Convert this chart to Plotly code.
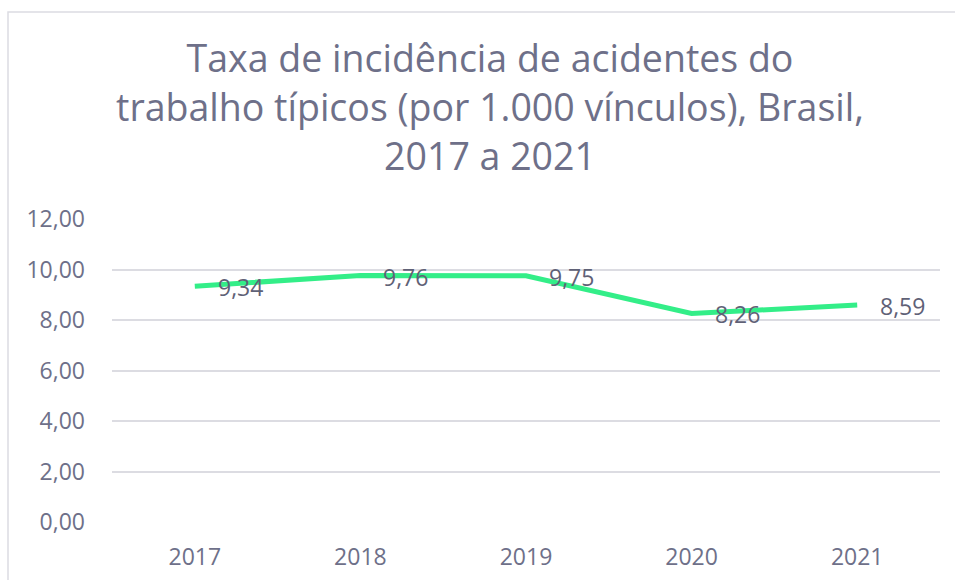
import plotly.graph_objects as go

years = ["2017", "2018", "2019", "2020", "2021"]
rates = [9.34, 9.76, 9.75, 8.26, 8.59]
labels = ["9,34", "9,76", "9,75", "8,26", "8,59"]
ytick_vals = [0, 2, 4, 6, 8, 10, 12]
ytick_text = ["0,00", "2,00", "4,00", "6,00", "8,00", "10,00", "12,00"]

title_text = "Taxa de incidência de acidentes do<br>trabalho típicos (por 1.000 vínculos), Brasil,<br>2017 a 2021"

txt_color = "#6e7089"
font_family = "Open Sans"

fig = go.Figure()
fig.add_trace(go.Scatter(
    x=years, y=rates, mode="lines",
    line=dict(color="#33ee88", width=5),
    hoverinfo="skip", showlegend=False,
))

for i, (yv, lab) in enumerate(zip(rates, labels)):
    fig.add_annotation(
        x=i, y=yv, text=lab, showarrow=False,
        xanchor="left", yanchor="middle", xshift=21, yshift=-1,
        font=dict(family=font_family, size=23, color="#5f6176"),
    )

W, H = 955, 580
ml, mr, mt, mb = 112, 15, 219, 58
pw, ph = W - ml - mr, H - mt - mb

def px_to_paper_x(px):
    return (px - ml) / pw

def px_to_paper_y(py):
    return (H - mb - py) / ph

fig.add_shape(
    type="rect", xref="paper", yref="paper",
    x0=px_to_paper_x(8), x1=px_to_paper_x(1000),
    y0=px_to_paper_y(640), y1=px_to_paper_y(12),
    line=dict(color="#dcdce2", width=1.5), fillcolor="rgba(0,0,0,0)",
    layer="below",
)

fig.update_layout(
    width=W, height=H,
    margin=dict(l=ml, r=mr, t=mt, b=mb, autoexpand=False),
    paper_bgcolor="white", plot_bgcolor="white",
    font=dict(family=font_family, color=txt_color),
    title=dict(
        text=title_text, x=490 / W, xanchor="center", xref="container",
        y=1 - 72 / H, yanchor="top", yref="container",
        font=dict(family=font_family, size=37.5, color="#6e7089"),
    ),
    xaxis=dict(
        type="category", range=[-0.5, 4.5], automargin=False,
        showgrid=False, showline=False, zeroline=False,
        ticks="", tickfont=dict(size=23, color=txt_color),
        ticklabelstandoff=19,
    ),
    yaxis=dict(
        range=[0, 12], tickvals=ytick_vals, ticktext=ytick_text,
        automargin=False,
        showgrid=True, gridcolor="#dcdce2", gridwidth=1.5,
        zeroline=False, showline=False, ticks="",
        tickfont=dict(size=23, color=txt_color),
        ticklabelstandoff=26,
    ),
)

fig.write_html(
    "out.html",
    config={"displayModeBar": False},
    post_script="document.body.style.margin='0';document.body.style.overflow='hidden';",
)
